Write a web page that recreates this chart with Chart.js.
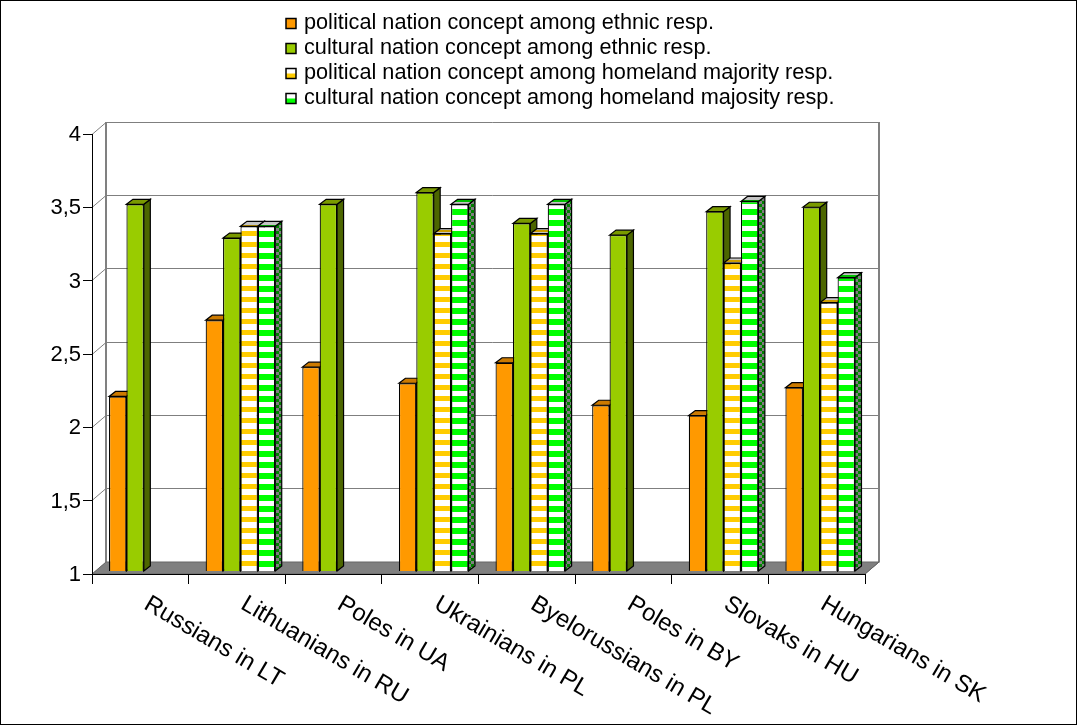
<!DOCTYPE html>
<html>
<head>
<meta charset="utf-8">
<script src="https://cdn.jsdelivr.net/npm/chart.js@4.4.1/dist/chart.umd.min.js"></script>
<style>
  html, body { margin: 0; padding: 0; background: #fff; overflow: hidden; }
  #wrap { position: relative; width: 1077px; height: 725px; }
</style>
</head>
<body>
<div id="wrap"><canvas id="c" width="1077" height="725"></canvas></div>
<script>
// ---- data ----
const categories = [
  'Russians in LT', 'Lithuanians in RU', 'Poles in UA', 'Ukrainians in PL',
  'Byelorussians in PL', 'Poles in BY', 'Slovaks in HU', 'Hungarians in SK'
];
const seriesNames = [
  'political nation concept among ethnic resp.',
  'cultural nation concept among ethnic resp.',
  'political nation concept among homeland majority resp.',
  'cultural nation concept among homeland majosity resp.'
];
const politicalEthnic   = [2.19, 2.71, 2.39, 2.28, 2.42, 2.13, 2.06, 2.25];
const culturalEthnic    = [3.50, 3.27, 3.50, 3.58, 3.37, 3.29, 3.45, 3.48];
const politicalMajority = [null, 3.35, null, 3.30, 3.30, null, 3.10, 2.83];
const culturalMajority  = [null, 3.35, null, 3.50, 3.50, null, 3.52, 3.00];
const yTickValues = [1, 1.5, 2, 2.5, 3, 3.5, 4];
const yTickLabels = ['1', '1,5', '2', '2,5', '3', '3,5', '4'];

// ---- 3D geometry (pixels) ----
const DEPTH = { x: 14, y: -12 };   // floor / side wall depth
const FRONT = { x: 3.5, y: -3 };   // bar front plane relative to the axis plane
const BAR_D = { x: 6.5, y: -5 };   // depth of a single bar

const FONT = '"Liberation Sans", Arial, sans-serif';

// ---- fills ----
function stripe(c1, c2, h1, h2) {
  const cv = document.createElement('canvas');
  cv.width = 4; cv.height = h1 + h2;
  const g = cv.getContext('2d');
  g.fillStyle = c1; g.fillRect(0, 0, 4, h1);
  g.fillStyle = c2; g.fillRect(0, h1, 4, h2);
  return g.createPattern(cv, 'repeat');
}
function checker(c1, c2, w, h) {
  const cv = document.createElement('canvas');
  cv.width = w * 2; cv.height = h * 2;
  const g = cv.getContext('2d');
  g.fillStyle = c1; g.fillRect(0, 0, w * 2, h * 2);
  g.fillStyle = c2; g.fillRect(0, 0, w, h); g.fillRect(w, h, w, h);
  return g.createPattern(cv, 'repeat');
}

const styles = [
  { front: '#FF9900', top: '#CC7A00', side: '#995C00' },
  { front: '#99CC00', top: '#7A9A00', side: '#4C6600' },
  { front: stripe('#FFCC00', '#FFFFFF', 5, 6), top: stripe('#CC9E00', '#C4C4C4', 2, 3),
    side: stripe('#997A00', '#999999', 5, 6) },
  { front: stripe('#00FF00', '#FFFFFF', 6, 5), top: stripe('#00C000', '#C4C4C4', 2, 3),
    side: checker('#008000', '#808080', 3, 3) }
];
const legendMarks = [
  { full: '#FF9900' }, { full: '#99CC00' },
  { low: '#FFCC00' }, { low: '#00FF00' }
];

const crisp = v => Math.floor(v) + 0.5;

function poly(ctx, pts, fill, stroke, lw) {
  ctx.beginPath();
  ctx.moveTo(pts[0][0], pts[0][1]);
  for (let k = 1; k < pts.length; k++) ctx.lineTo(pts[k][0], pts[k][1]);
  ctx.closePath();
  if (fill) { ctx.fillStyle = fill; ctx.fill(); }
  if (stroke) { ctx.strokeStyle = stroke; ctx.lineWidth = lw || 1; ctx.stroke(); }
}

const scene3d = {
  id: 'scene3d',
  beforeDatasetsDraw(chart) {
    const ctx = chart.ctx, ys = chart.scales.y, ca = chart.chartArea;
    const L = ca.left - FRONT.x, R = ca.right - FRONT.x;
    const B = ca.bottom - FRONT.y;
    ctx.save();

    // back wall
    const bt = ys.getPixelForValue(4) - FRONT.y + DEPTH.y;
    const bb = B + DEPTH.y;
    ctx.fillStyle = '#FFFFFF';
    ctx.fillRect(L + DEPTH.x, bt, R - L, bb - bt);

    // gridlines across the side wall and back wall
    ctx.strokeStyle = '#7F7F7F';
    ctx.lineWidth = 1;
    yTickValues.forEach(v => {
      const y = ys.getPixelForValue(v) - FRONT.y;
      ctx.beginPath();
      ctx.moveTo(L, crisp(y));
      ctx.lineTo(L + DEPTH.x, crisp(y + DEPTH.y));
      ctx.lineTo(crisp(R + DEPTH.x), crisp(y + DEPTH.y));
      ctx.stroke();
    });
    // back wall vertical edges
    ctx.lineWidth = 2;
    ctx.strokeStyle = '#808080';
    ctx.beginPath();
    ctx.moveTo(L + DEPTH.x, bt); ctx.lineTo(L + DEPTH.x, bb);
    ctx.moveTo(R + DEPTH.x, bt); ctx.lineTo(R + DEPTH.x, bb);
    ctx.stroke();

    // floor
    poly(ctx, [[L, B], [R, B], [R + DEPTH.x, B + DEPTH.y], [L + DEPTH.x, B + DEPTH.y]],
      '#808080', '#666666', 1);

    // bar side and top faces, left to right so neighbours overlap correctly
    const n = categories.length;
    for (let i = 0; i < n; i++) {
      chart.data.datasets.forEach((ds, d) => {
        if (ds.data[i] == null) return;
        const el = chart.getDatasetMeta(d).data[i];
        const p = el.getProps(['x', 'y', 'base', 'width'], true);
        const base = Math.min(p.base, ca.bottom);
        const xl = p.x - p.width / 2, xr = p.x + p.width / 2;
        const st = styles[d];
        poly(ctx, [[xr, p.y], [xr + BAR_D.x, p.y + BAR_D.y], [xr + BAR_D.x, base + BAR_D.y], [xr, base]],
          st.side, '#000', 1.2);
        poly(ctx, [[xl, p.y], [xl + BAR_D.x, p.y + BAR_D.y], [xr + BAR_D.x, p.y + BAR_D.y], [xr, p.y]],
          st.top, '#000', 1.2);
      });
    }
    ctx.restore();
  },
  afterDatasetsDraw(chart) {
    const ctx = chart.ctx, xs = chart.scales.x, ys = chart.scales.y, ca = chart.chartArea;
    const L = ca.left - FRONT.x, R = ca.right - FRONT.x;
    const B = ca.bottom - FRONT.y;
    const T = ys.getPixelForValue(4) - FRONT.y;
    ctx.save();

    // value axis
    ctx.strokeStyle = '#000';
    ctx.lineWidth = 1;
    ctx.beginPath();
    ctx.moveTo(crisp(L), T); ctx.lineTo(crisp(L), B + 10);
    yTickValues.forEach(v => {
      const y = crisp(ys.getPixelForValue(v) - FRONT.y);
      ctx.moveTo(L - 9, y); ctx.lineTo(L, y);
    });
    // category axis and boundary ticks
    ctx.moveTo(L - 9, crisp(B)); ctx.lineTo(R, crisp(B));
    const catW = (R - L) / categories.length;
    for (let k = 1; k <= categories.length; k++) {
      const x = crisp(L + k * catW);
      ctx.moveTo(x, B); ctx.lineTo(x, B + 10);
    }
    ctx.stroke();
    // floor right edge over the axis end
    ctx.strokeStyle = '#666';
    ctx.beginPath();
    ctx.moveTo(R, B); ctx.lineTo(R + DEPTH.x, B + DEPTH.y);
    ctx.stroke();

    // value labels
    ctx.fillStyle = '#000';
    ctx.font = '22px ' + FONT;
    ctx.textAlign = 'right';
    ctx.textBaseline = 'middle';
    yTickValues.forEach((v, k) => {
      ctx.fillText(yTickLabels[k], L - 11, ys.getPixelForValue(v) - FRONT.y + 1);
    });

    // category labels, slanted
    ctx.font = '24px ' + FONT;
    ctx.textAlign = 'left';
    ctx.textBaseline = 'top';
    categories.forEach((c, i) => {
      const cx = xs.getPixelForValue(i) - FRONT.x;
      ctx.save();
      ctx.translate(cx + 12, B + 18);
      ctx.rotate(30.5 * Math.PI / 180);
      ctx.fillText(c, 0, 0);
      ctx.restore();
    });

    // legend
    ctx.font = '21.7px ' + FONT;
    ctx.textAlign = 'left';
    ctx.textBaseline = 'middle';
    seriesNames.forEach((name, k) => {
      const cy = 23 + k * 25;
      const mx = 286, my = cy - 4.5, ms = 10;
      const m = legendMarks[k];
      ctx.fillStyle = '#FFFFFF';
      ctx.fillRect(mx, my, ms, ms);
      ctx.fillStyle = m.full || m.low;
      if (m.full) ctx.fillRect(mx, my, ms, ms);
      else ctx.fillRect(mx, my + ms / 2, ms, ms / 2);
      ctx.strokeStyle = '#000';
      ctx.lineWidth = 1.5;
      ctx.strokeRect(mx, my, ms, ms);
      ctx.fillStyle = '#000';
      ctx.fillText(name, 304, cy);
    });

    // frame
    ctx.strokeStyle = '#000';
    ctx.lineWidth = 1;
    ctx.strokeRect(0.5, 0.5, chart.width - 1, chart.height - 1);
    ctx.restore();
  }
};

const datasets = [politicalEthnic, culturalEthnic, politicalMajority, culturalMajority]
  .map((values, d) => ({
    label: seriesNames[d],
    data: values,
    backgroundColor: styles[d].front,
    borderColor: '#000000',
    borderWidth: 1.2,
    borderSkipped: false
  }));

new Chart(document.getElementById('c'), {
  type: 'bar',
  data: { labels: categories, datasets },
  options: {
    responsive: false,
    animation: false,
    devicePixelRatio: 1,
    layout: { padding: { left: 95.5, right: 208.5, top: 131, bottom: 154 } },
    datasets: { bar: { categoryPercentage: 0.72, barPercentage: 1.0 } },
    scales: {
      x: { type: 'category', offset: true, display: false },
      y: { min: 1, max: 4, display: false }
    },
    plugins: { legend: { display: false }, tooltip: { enabled: false } }
  },
  plugins: [scene3d]
});
</script>
</body>
</html>
